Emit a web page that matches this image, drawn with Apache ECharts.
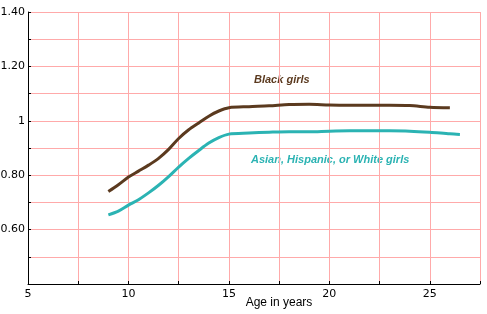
<!DOCTYPE html>
<html>
<head>
<meta charset="utf-8">
<script src="https://cdn.jsdelivr.net/npm/echarts@6/dist/echarts.min.js"></script>
<style>
  html, body { margin: 0; padding: 0; background: #fff; }
  #chart { width: 487px; height: 314px; }
</style>
</head>
<body>
<div id="chart"></div>
<script>
// ages (years) and BMI-like ratio values
const blackAges = [9, 9.5, 10, 10.5, 11, 11.5, 12, 12.5, 13, 13.5, 14, 14.5, 15, 16, 17, 18, 19, 20, 21, 22, 23, 24, 25, 26];
const blackValues = [0.74, 0.765, 0.793, 0.815, 0.837, 0.862, 0.895, 0.935, 0.967, 0.992, 1.017, 1.036, 1.048, 1.052, 1.055, 1.06, 1.061, 1.058, 1.057, 1.057, 1.057, 1.056, 1.05, 1.048];
const otherAges = [9, 9.5, 10, 10.5, 11, 11.5, 12, 12.5, 13, 13.5, 14, 14.5, 15, 16, 17, 18, 19, 20, 21, 22, 23, 24, 25, 26, 26.5];
const otherValues = [0.654, 0.668, 0.69, 0.71, 0.735, 0.763, 0.795, 0.83, 0.862, 0.891, 0.918, 0.938, 0.951, 0.955, 0.958, 0.96, 0.96, 0.962, 0.963, 0.963, 0.963, 0.962, 0.958, 0.952, 0.95];
const yLabels = { '0.6': '0.60', '0.8': '0.80', '1': '1', '1.2': '1.20', '1.4': '1.40' };
const xLabels = [5, 10, 15, 20, 25];

const gridColor = '#ffaaaa';
const axisCommon = {
  axisLine: { lineStyle: { color: '#000', width: 1 } },
  axisTick: { inside: true, length: 3, lineStyle: { color: '#000' } },
  splitLine: { show: true, lineStyle: { color: gridColor, width: 1 } },
};

const chart = echarts.init(document.getElementById('chart'));
chart.setOption({
  animation: false,
  grid: { left: 28, right: 7, top: 12, bottom: 30, containLabel: false, outerBoundsMode: 'none' },
  xAxis: {
    ...axisCommon,
    type: 'value',
    min: 5,
    max: 27.5,
    interval: 2.5,
    name: 'Age in years',
    nameLocation: 'middle',
    nameGap: 13,
    nameMoveOverlap: false,
    // the title sits a little right of the axis centre in the original
    nameTextStyle: { color: '#000', fontSize: 12, fontFamily: 'Liberation Sans', padding: [0, 0, 0, 50] },
    axisLabel: {
      color: '#000', fontSize: 11, fontFamily: 'DejaVu Sans', margin: 5,
      formatter: v => (xLabels.includes(v) ? String(v) : ''),
    },
  },
  yAxis: {
    ...axisCommon,
    type: 'value',
    min: 0.4,
    max: 1.4,
    interval: 0.1,
    axisLabel: {
      color: '#000', fontSize: 11, fontFamily: 'DejaVu Sans', margin: 3,
      formatter: v => yLabels[String(Math.round(v * 10) / 10)] || '',
    },
  },
  series: [
    {
      name: 'Black girls',
      type: 'line',
      smooth: 0.3,
      symbol: 'none',
      lineStyle: { color: '#5b3a1f', width: 3 },
      data: blackAges.map((a, i) => [a, blackValues[i]]),
    },
    {
      name: 'Asian, Hispanic, or White girls',
      type: 'line',
      smooth: 0.3,
      symbol: 'none',
      lineStyle: { color: '#2bb3b3', width: 3 },
      data: otherAges.map((a, i) => [a, otherValues[i]]),
    },
  ],
  graphic: [
    {
      type: 'text', left: 254, top: 74,
      style: { text: 'Black girls', fill: '#5b3a1f', font: 'italic bold 11px "Liberation Sans"' },
    },
    {
      type: 'text', left: 251, top: 154,
      style: { text: 'Asian, Hispanic, or White girls', fill: '#2bb3b3', font: 'italic bold 11px "Liberation Sans"' },
    },
  ],
});
</script>
</body>
</html>
